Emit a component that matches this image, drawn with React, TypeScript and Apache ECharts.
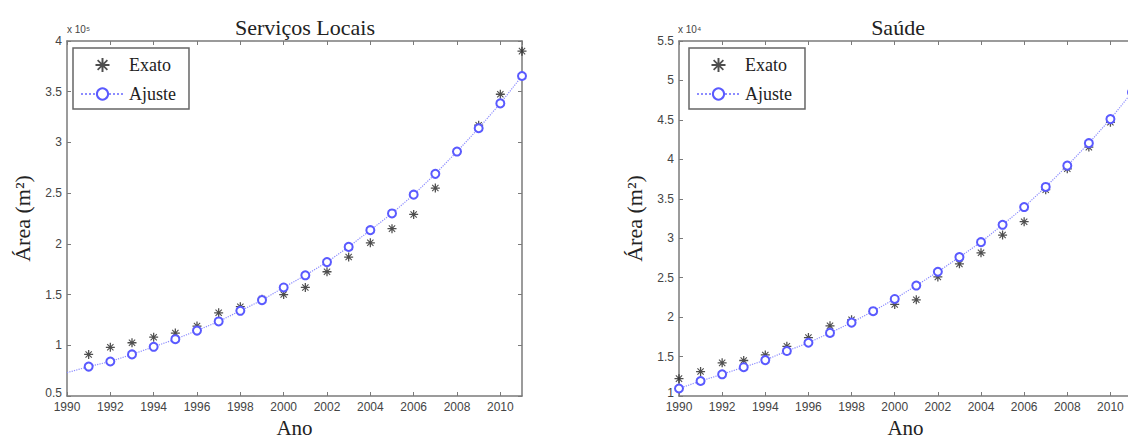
import React, { useEffect, useRef } from 'react';
import * as echarts from 'echarts';

// Serviços Locais (m²)
const leftExatoYears = [1991, 1992, 1993, 1994, 1995, 1996, 1997, 1998, 1999, 2000, 2001, 2002, 2003, 2004, 2005, 2006, 2007, 2008, 2009, 2010, 2011];
const leftExato = [91000, 98000, 102500, 108000, 112000, 119000, 132000, 138000, 145500, 150000, 157000, 172500, 187000, 201000, 215000, 229000, 255000, 291000, 317000, 347500, 390000];
const leftAjusteYears = [1990, 1991, 1992, 1993, 1994, 1995, 1996, 1997, 1998, 1999, 2000, 2001, 2002, 2003, 2004, 2005, 2006, 2007, 2008, 2009, 2010, 2011];
const leftAjuste = [73000, 79000, 84000, 91000, 98500, 106000, 114500, 123500, 134000, 144500, 157000, 169000, 182000, 197000, 213500, 230000, 248500, 269000, 291000, 314000, 338500, 365500];

// Saúde (m²)
const rightExatoYears = [1990, 1991, 1992, 1993, 1994, 1995, 1996, 1997, 1998, 1999, 2000, 2001, 2002, 2003, 2004, 2005, 2006, 2007, 2008, 2009, 2010];
const rightExato = [12200, 13100, 14200, 14500, 15200, 16300, 17400, 18900, 19650, 20700, 21600, 22200, 25100, 26750, 28150, 30400, 32100, 36150, 38800, 41550, 44700];
const rightAjusteYears = [1990, 1991, 1992, 1993, 1994, 1995, 1996, 1997, 1998, 1999, 2000, 2001, 2002, 2003, 2004, 2005, 2006, 2007, 2008, 2009, 2010, 2011];
const rightAjuste = [10950, 11900, 12750, 13650, 14550, 15700, 16750, 18000, 19300, 20750, 22300, 24000, 25750, 27600, 29500, 31700, 33950, 36500, 39200, 42050, 45100, 48500];

const titles = ['Serviços Locais', 'Saúde'];
const yName = 'Área (m²)';
const xName = 'Ano';
const exponents = ['x 10⁵', 'x 10⁴'];

const STAR = 'path://M-0.7,-5L0.7,-5L0.7,5L-0.7,5ZM-5,-0.7L5,-0.7L5,0.7L-5,0.7ZM-3.08,-3.92L3.92,3.08L3.08,3.92L-3.92,-3.08ZM3.08,-3.92L3.92,-3.08L-3.08,3.92L-3.92,3.08Z';
const SERIF = '"Liberation Serif", "Times New Roman", serif';
const SANS = '"Liberation Sans", Arial, sans-serif';
const AXIS = '#7a7a7a';
const BLUE = '#5a5aff';
const LBLUE = '#8c8cff';

export default function App() {
  const ref = useRef<HTMLDivElement>(null);
  useEffect(() => {
    document.body.style.margin = '0';
    const chart = echarts.init(ref.current!, null, { renderer: 'svg' });

    const grids = [
      { left: 67, top: 41, width: 455, height: 355, outerBoundsMode: 'none', containLabel: false },
      { left: 679, top: 41, width: 453, height: 355, outerBoundsMode: 'none', containLabel: false },
    ];
    const yCfg = [
      { min: 50000, max: 400000, interval: 50000, div: 1e5 },
      { min: 10000, max: 55000, interval: 5000, div: 1e4 },
    ];

    const xAxes: any[] = [];
    const yAxes: any[] = [];
    [0, 1].forEach((g) => {
      xAxes.push({
        type: 'value', gridIndex: g, min: 1990, max: 2011, interval: 2, position: 'bottom',
        name: xName, nameLocation: 'middle', nameGap: 16,
        nameTextStyle: { fontFamily: SERIF, fontSize: 21, color: '#222' },
        axisLine: { lineStyle: { color: AXIS, width: 1.5 } },
        axisTick: { inside: true, length: 4, lineStyle: { color: AXIS } },
        axisLabel: { fontFamily: SANS, fontSize: 12, color: '#444', margin: 5, showMaxLabel: false, formatter: (v: number) => String(v) },
        splitLine: { show: false },
      });
      xAxes.push({
        type: 'value', gridIndex: g, min: 1990, max: 2011, interval: 2, position: 'top',
        axisLine: { lineStyle: { color: AXIS, width: 1.5 } },
        axisTick: { inside: true, length: 4, lineStyle: { color: AXIS } },
        axisLabel: { show: false }, splitLine: { show: false },
      });
      const c = yCfg[g];
      yAxes.push({
        type: 'value', gridIndex: g, min: c.min, max: c.max, interval: c.interval, position: 'left',
        name: yName, nameLocation: 'middle', nameGap: 34,
        nameTextStyle: { fontFamily: SERIF, fontSize: 22, color: '#222' },
        axisLine: { show: true, lineStyle: { color: AXIS, width: 1.5 } },
        axisTick: { show: true, inside: true, length: 4, lineStyle: { color: AXIS } },
        axisLabel: {
          fontFamily: SANS, fontSize: 12, color: '#444', margin: 5,
          formatter: (v: number) => {
            const s = String(+(v / c.div).toFixed(2));
            return v === c.min ? `{lo|${s}}` : s;
          },
          rich: { lo: { fontFamily: SANS, fontSize: 12, color: '#444', padding: [0, 0, 7, 0] } },
        },
        splitLine: { show: false },
      });
      yAxes.push({
        type: 'value', gridIndex: g, min: c.min, max: c.max, interval: c.interval, position: 'right',
        axisLine: { show: true, lineStyle: { color: AXIS, width: 1.5 } },
        axisTick: { show: true, inside: true, length: 4, lineStyle: { color: AXIS } },
        axisLabel: { show: false }, splitLine: { show: false },
      });
    });

    const mk = (years: number[], vals: number[]) => years.map((y, i) => [y, vals[i]]);
    const ajusteData = (years: number[], vals: number[], noMarkYear: number | null) =>
      years.map((y, i) => (y === noMarkYear ? { value: [y, vals[i]], symbol: 'none' } : [y, vals[i]]));

    const scatter = (g: number, data: any[]) => ({
      name: 'Exato', type: 'scatter', xAxisIndex: g * 2, yAxisIndex: g * 2,
      symbol: STAR, symbolSize: 9, itemStyle: { color: '#222' }, data,
    });
    const fit = (g: number, data: any[]) => ({
      name: 'Ajuste', type: 'line', xAxisIndex: g * 2, yAxisIndex: g * 2,
      symbol: 'emptyCircle', symbolSize: 8, showAllSymbol: true,
      lineStyle: { type: 'dotted', color: LBLUE, width: 1.2 },
      itemStyle: { color: BLUE, borderColor: BLUE, borderWidth: 1.2 }, data,
    });

    const legend = (left: number) => ({
      left, top: 48, orient: 'vertical', data: ['Exato', 'Ajuste'],
      backgroundColor: '#fff', borderColor: '#666', borderWidth: 1.5,
      padding: [8, 13, 6, 7], itemWidth: 43, itemHeight: 14, itemGap: 11,
      textStyle: { fontFamily: SERIF, fontSize: 18, color: '#222' },
    });

    chart.setOption({
      animation: false,
      backgroundColor: '#fff',
      title: [
        { text: titles[0], left: 300, top: 11, textAlign: 'center', textStyle: { fontFamily: SERIF, fontSize: 22, fontWeight: 'normal', color: '#222' } },
        { text: titles[1], left: 893, top: 11, textAlign: 'center', textStyle: { fontFamily: SERIF, fontSize: 22, fontWeight: 'normal', color: '#222' } },
      ],
      grid: grids,
      xAxis: xAxes,
      yAxis: yAxes,
      legend: [legend(73), legend(689)],
      graphic: [
        { type: 'text', x: 67, y: 29, style: { text: exponents[0], font: `10px ${SANS}`, fill: '#444', textVerticalAlign: 'middle' } },
        { type: 'text', x: 678, y: 29, style: { text: exponents[1], font: `10px ${SANS}`, fill: '#444', textVerticalAlign: 'middle' } },
      ],
      series: [
        scatter(0, mk(leftExatoYears, leftExato)),
        fit(0, ajusteData(leftAjusteYears, leftAjuste, 1990)),
        scatter(1, mk(rightExatoYears, rightExato)),
        fit(1, ajusteData(rightAjusteYears, rightAjuste, null)),
      ],
    });
    return () => chart.dispose();
  }, []);
  return <div ref={ref} style={{ width: 1128, height: 439 }} />;
}
